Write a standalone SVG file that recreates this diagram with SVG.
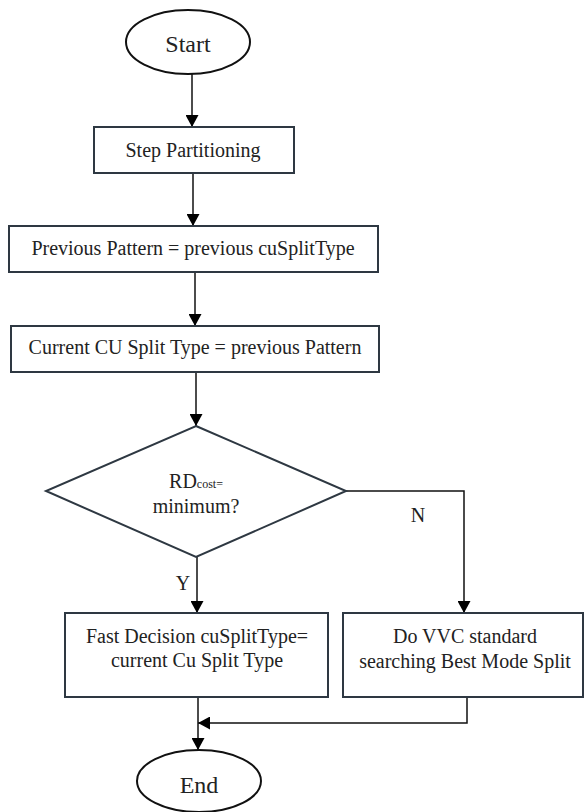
<svg xmlns="http://www.w3.org/2000/svg" width="584" height="812" viewBox="0 0 584 812">
<style>
  .box { fill: #ffffff; stroke: #2e3842; stroke-width: 2; }
  .term { fill: #ffffff; stroke: #111111; stroke-width: 2; }
  .conn { fill: none; stroke: #111111; stroke-width: 1.5; }
  text { font-family: 'Liberation Serif', 'Times New Roman', 'DejaVu Serif', serif; font-size: 20px; fill: #222222; text-anchor: middle; }
  .big { font-size: 24px; }
  .sub { font-size: 12px; }
</style>
<defs>
  <marker id="arr" markerUnits="userSpaceOnUse" markerWidth="12" markerHeight="13" viewBox="0 0 12 13" refX="12" refY="6.5" orient="auto">
    <path d="M0,0 L12,6.5 L0,13 z" fill="#000000"/>
  </marker>
</defs>
<rect width="584" height="812" fill="#ffffff"/>

<g id="connectors">
  <path class="conn" d="M192,74 L192,127" marker-end="url(#arr)"/>
  <path class="conn" d="M193,173 L193,226" marker-end="url(#arr)"/>
  <path class="conn" d="M195,272 L195,326" marker-end="url(#arr)"/>
  <path class="conn" d="M196,372 L196,426" marker-end="url(#arr)"/>
  <path class="conn" d="M197,557 L197,613" marker-end="url(#arr)"/>
  <path class="conn" d="M346,491 L464,491 L464,613" marker-end="url(#arr)"/>
  <path class="conn" d="M467,697 L467,723 L198,723" marker-end="url(#arr)"/>
  <path class="conn" d="M198,697 L198,750" marker-end="url(#arr)"/>
  <text font-family="Liberation Serif, serif" x="183" y="590">Y</text>
  <text font-family="Liberation Serif, serif" x="418" y="522">N</text>
</g>

<g id="start">
  <ellipse class="term" cx="188" cy="42" rx="62" ry="32"/>
  <text class="big" font-family="Liberation Serif, serif" x="188" y="52">Start</text>
</g>

<g id="step">
  <rect class="box" x="94" y="127" width="200" height="46"/>
  <text font-family="Liberation Serif, serif" x="193" y="157">Step Partitioning</text>
</g>

<g id="prev">
  <rect class="box" x="9" y="226" width="369" height="46"/>
  <text font-family="Liberation Serif, serif" x="193" y="255">Previous Pattern = previous cuSplitType</text>
</g>

<g id="current">
  <rect class="box" x="11" y="326" width="368" height="46"/>
  <text font-family="Liberation Serif, serif" x="195" y="354">Current CU Split Type = previous Pattern</text>
</g>

<g id="decision">
  <polygon class="box" points="196,426 346,491 196,557 46,491"/>
  <text font-family="Liberation Serif, serif" x="196" y="488">RD<tspan class="sub">cost=</tspan></text>
  <text font-family="Liberation Serif, serif" x="196" y="513">minimum?</text>
</g>

<g id="fast">
  <rect class="box" x="65" y="613" width="263" height="84"/>
  <text font-family="Liberation Serif, serif" x="197" y="643">Fast Decision cuSplitType=</text>
  <text font-family="Liberation Serif, serif" x="197" y="667">current Cu Split Type</text>
</g>

<g id="vvc">
  <rect class="box" x="343" y="613" width="240" height="84"/>
  <text font-family="Liberation Serif, serif" x="465" y="643">Do VVC standard</text>
  <text font-family="Liberation Serif, serif" x="465" y="668">searching Best Mode Split</text>
</g>

<g id="end">
  <ellipse class="term" cx="199" cy="781" rx="62" ry="31"/>
  <text class="big" font-family="Liberation Serif, serif" x="199" y="793">End</text>
</g>
</svg>
